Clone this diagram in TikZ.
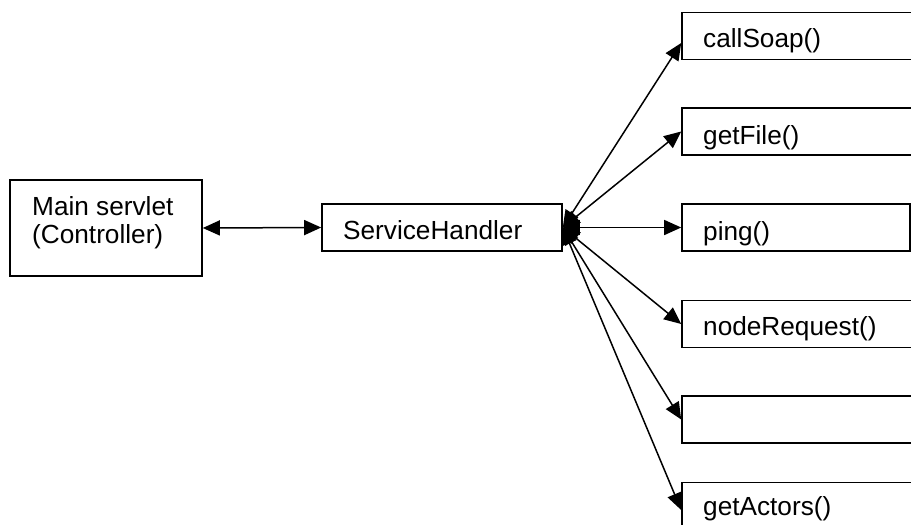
\documentclass[tikz,border=0pt]{standalone}
\usepackage{fontspec}
\setmainfont{Liberation Sans}
\usetikzlibrary{arrows.meta}
\begin{document}
\begin{tikzpicture}[x=1pt,y=-1pt,
  box/.style={draw,line width=1.6pt,inner sep=0pt,minimum height=47pt},
  lbl/.style={anchor=base west,inner sep=0pt,font=\fontsize{26.2}{30}\selectfont},
  conn/.style={line width=1.5pt,{Triangle[length=17pt,width=15pt]}-{Triangle[length=17pt,width=15pt]}}]
\useasboundingbox (0,0) rectangle (911,525);
\clip (0,0) rectangle (911,525);
% boxes
\node[box,minimum width=192pt,minimum height=96pt] (main) at (106,228) {};
\node[box,minimum width=240pt] (sh) at (442,227.5) {};
\node[box,minimum width=234pt] (cs) at (799,36) {};
\node[box,minimum width=234pt] (gf) at (799,131.5) {};
\node[box,minimum width=228pt] (pg) at (796,227.5) {};
\node[box,minimum width=234pt] (nr) at (799,324) {};
\node[box,minimum width=234pt] (em) at (799,419.5) {};
\node[box,minimum width=234pt] (ga) at (799,506) {};
% labels
\node[lbl] (t1) at (32,215) {Main servlet};
\node[lbl] (t2) at (32,243) {(Controller)};
\node[lbl] (tsh) at (343,239) {ServiceHandler};
\node[lbl] (tcs) at (703,47) {callSoap()};
\node[lbl] (tgf) at (703,144) {getFile()};
\node[lbl] (tpg) at (703,240) {ping()};
\node[lbl] (tnr) at (703,335) {nodeRequest()};
\node[lbl] (tga) at (703,515) {getActors()};
% connectors
\draw[conn] (main.east) -- (sh.west);
\draw[conn] (sh.east) -- ([yshift=-7pt]cs.west);
\draw[conn] (sh.east) -- (gf.west);
\draw[conn] (sh.east) -- (pg.west);
\draw[conn] (sh.east) -- (nr.west);
\draw[conn] (sh.east) -- (em.west);
\draw[conn] (sh.east) -- ([yshift=-4pt]ga.west);
\end{tikzpicture}
\end{document}
